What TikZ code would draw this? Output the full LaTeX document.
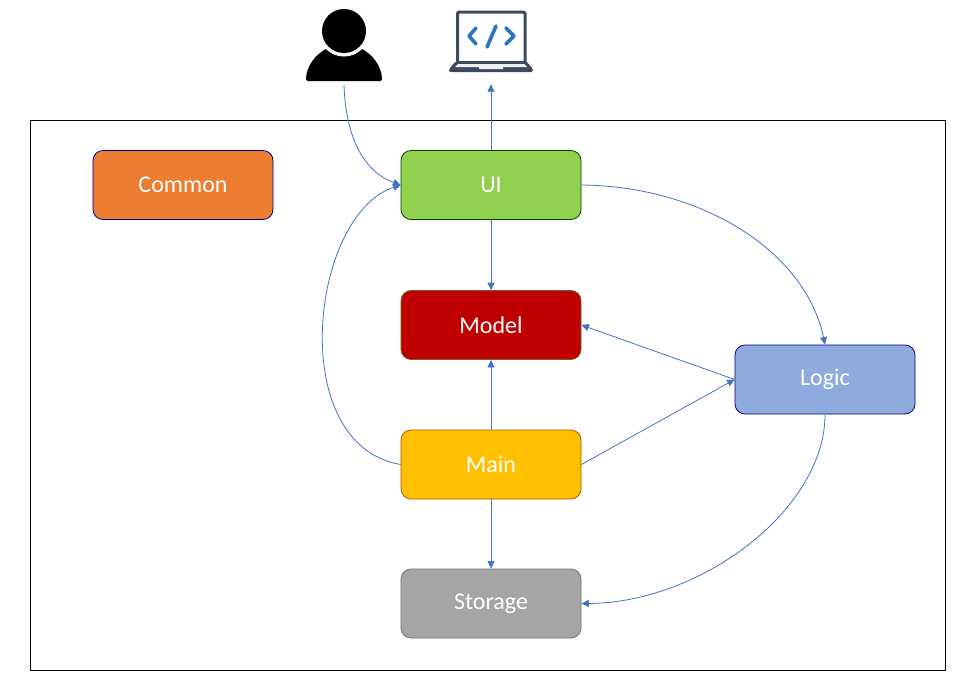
\documentclass[tikz,border=0pt]{standalone}
\usepackage{fontspec}
\setmainfont{Carlito}
\usetikzlibrary{arrows.meta}
\definecolor{linkblue}{HTML}{4472C4}
\definecolor{laptopgrey}{HTML}{3D4A5C}
\definecolor{codeblue}{HTML}{2E75C0}
\tikzset{
  x=1pt,y=-1pt,
  box/.style={draw=#1,line width=0.8pt,rounded corners=10pt,minimum width=180pt,minimum height=69pt,
    inner sep=0pt,text=white,font=\fontsize{24}{28}\selectfont},
  link/.style={draw=linkblue,line width=0.8pt,-{Triangle[length=7.5pt,width=7pt,fill=linkblue]}},
  iconarea/.style={inner sep=0pt,minimum width=84pt},
  screenline/.style={draw=laptopgrey,line width=3pt,rounded corners=1.5pt},
  codeline/.style={draw=codeblue,line width=3.6pt,line cap=round,line join=round},
}
\begin{document}
\begin{tikzpicture}
\useasboundingbox (0,0) rectangle (957,694);
\fill[white] (0,0) rectangle (957,694);
\draw[black,line width=0.8pt] (30.5,120) rectangle (945.5,670.5);

% person icon
\node[iconarea,minimum height=80pt] (user) at (344,45) {};
\fill[black,rounded corners=1.5pt] (306,81) .. controls (306,66) and (316,54) .. (328,48) -- (360,48)
  .. controls (372,54) and (382,66) .. (382,81) -- cycle;
\fill[white] (344,31) circle (25.5);
\fill[black] (344,31) circle (22);

% laptop icon
\node[iconarea,minimum height=84pt] (laptop) at (491,42) {};
\draw[screenline] (457.5,62) -- (457.5,12) -- (525,12) -- (525,62);
\fill[laptopgrey,rounded corners=2pt] (449,72) -- (449,69) -- (456,61) -- (526,61) -- (533,69) -- (533,72) -- cycle;
\fill[white!92!laptopgrey] (458,64) -- (524,64) -- (527,67) -- (503,67) -- (503,69) -- (479,69) -- (479,67) -- (455,67) -- cycle;
\draw[codeline] (476,28) -- (469,36) -- (476,44);
\draw[codeline] (506,28) -- (514,36) -- (506,44);
\draw[codeline] (496,26) -- (487,47);

% boxes
\node[box=black!35!green!40!black,fill={rgb,255:red,146;green,208;blue,80}] (ui) at (491,185) {UI};
\node[box=olive!70!black,fill={rgb,255:red,192;green,0;blue,0}] (model) at (491,325) {Model};
\node[box=black!30!orange,fill={rgb,255:red,255;green,192;blue,0}] (main) at (491,464.5) {Main};
\node[box=black!55,fill={rgb,255:red,165;green,165;blue,165}] (storage) at (491,603.5) {Storage};
\node[box=blue!50!black,fill={rgb,255:red,237;green,125;blue,49}] (common) at (183,185) {Common};
\node[box=blue!50!black,fill={rgb,255:red,143;green,170;blue,220}] (logic) at (825,379.5) {Logic};

% connectors
\draw[link] (ui.north) -- (laptop.south);
\draw[link] (ui.south) -- (model.north);
\draw[link] (main.north) -- (model.south);
\draw[link] (main.south) -- (storage.north);
\draw[link] (logic.west) -- (model.east);
\draw[link] (main.east) -- (logic.west);
\draw[link] (user.south) .. controls (346,140) and (365,172) .. (ui.west);
\draw[link] (main.west) .. controls (285,445) and (310,215) .. (ui.west);
\draw[link] (ui.east) .. controls (700,186) and (805,250) .. (logic.north);
\draw[link] (logic.south) .. controls (825,510) and (700,603) .. (storage.east);
\end{tikzpicture}
\end{document}
